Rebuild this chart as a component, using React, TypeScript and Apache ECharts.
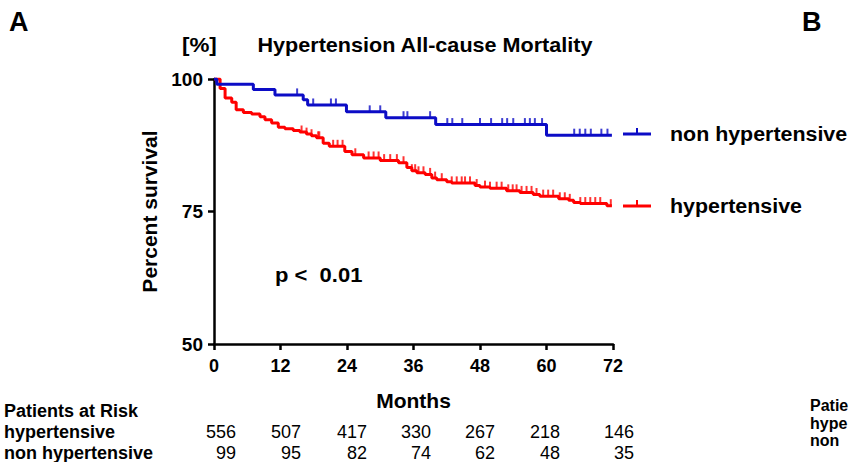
import { useEffect, useRef } from 'react';
import * as echarts from 'echarts';

// Kaplan-Meier steps: [month, percent survival after the drop]
const nonHypSteps: [number, number][] = [
  [0, 100], [0.5, 99.0], [7.1, 98.0], [11.0, 97.0], [16.1, 96.1], [16.9, 95.1],
  [23.9, 93.8], [31.0, 92.7], [40.0, 91.4], [60.0, 89.4], [71.8, 89.4],
];
const hypSteps: [number, number][] = [
  [0, 100], [1.1, 98.2], [2.0, 96.4], [3.2, 95.6], [4.0, 94.2], [5.3, 93.7],
  [6.8, 93.4], [8.3, 92.9], [9.2, 92.3], [10.4, 91.7], [11.6, 90.9], [12.8, 90.6],
  [14.3, 90.3], [15.5, 90.0], [16.7, 89.6], [17.6, 89.3], [18.5, 88.9], [19.7, 87.9],
  [20.8, 87.3], [23.6, 86.3], [24.9, 85.7], [27.0, 85.1], [30.0, 84.6], [33.3, 84.2],
  [34.8, 83.3], [35.7, 82.7], [36.6, 82.3], [38.1, 82.0], [39.3, 81.3], [40.2, 81.0],
  [42.0, 80.6], [42.9, 80.4], [47.1, 79.9], [48.0, 79.6], [49.8, 79.4], [52.8, 78.9],
  [55.2, 78.6], [57.6, 78.2], [58.8, 77.9], [62.2, 77.4], [64.0, 77.1], [64.9, 76.7],
  [66.1, 76.5], [70.9, 76.1], [71.8, 76.1],
];

// censored observations (months)
const nonHypCensored = [
  15, 17.9, 21.1, 22, 28.1, 30, 34.2, 34.9, 39, 42.1, 43, 44.8, 48, 50, 52, 52.9,
  54, 56.1, 57, 57.9, 59.2, 65, 66, 67, 68, 69.9, 71,
];
const hypCensored = [
  15.8, 16.7, 17.6, 18.8, 19, 21.5, 22.3, 23.2, 25.5, 27.9, 28.8, 29.7, 30.7, 31.8,
  33, 34.2, 35.7, 36.3, 36.9, 37.8, 39, 39.9, 41.1, 42.9, 43.8, 44.7, 45.3, 46.2,
  47.4, 48.9, 49.8, 51, 51.9, 53.1, 53.9, 54.6, 55.5, 56.4, 57.3, 58.2, 59.4, 60.3,
  61.2, 62.4, 63.3, 64.2, 66.1, 67, 67.9, 68.8, 69.7, 71.6,
];

const riskLabels = ['hypertensive', 'non hypertensive'];
const riskHyp = ['556', '507', '417', '330', '267', '218', '146'];
const riskNonHyp = ['99', '95', '82', '74', '62', '48', '35'];

const BLUE = '#0c0cc6';
const RED = '#ff0000';
const FONT = '"Liberation Sans", Arial, sans-serif';

function survAt(steps: [number, number][], t: number): number {
  let v = steps[0][1];
  for (const [m, s] of steps) {
    if (m <= t) v = s;
  }
  return v;
}

function txt(text: string, x: number, y: number, size: number, bold = true, align = 'left', sx = 1) {
  return {
    type: 'text',
    x,
    y,
    scaleX: sx,
    silent: true,
    style: {
      text,
      fill: '#000',
      font: `${bold ? 'bold ' : ''}${size}px ${FONT}`,
      textAlign: align,
      textVerticalAlign: 'middle',
    },
  };
}

export default function App() {
  const ref = useRef<HTMLDivElement>(null);

  useEffect(() => {
    document.body.style.margin = '0';
    if (!ref.current) return;
    const chart = echarts.init(ref.current, undefined, { renderer: 'svg' });

    // right edges of the at-risk columns
    const riskCols = [236, 301, 367, 431, 495, 560, 634];

    const graphics: any[] = [
      txt('A', 9, 22, 27),
      txt('B', 802, 22, 27),
      txt('[%]', 182, 45, 20, true, 'left', 1.12),
      txt('Hypertension All-cause Mortality', 425, 45, 20, true, 'center', 1.08),
      txt('p <  0.01', 275, 275, 20, true, 'left', 1.1),
      txt('Patients at Risk', 4, 411, 18),
      txt(riskLabels[0], 4, 432, 18),
      txt(riskLabels[1], 4, 453, 18),
      txt('Patie', 810, 405, 16),
      txt('hype', 810, 423, 16),
      txt('non', 810, 440, 16),
      // legend
      { type: 'line', shape: { x1: 623, y1: 134, x2: 651, y2: 134 }, style: { stroke: BLUE, lineWidth: 3 } },
      { type: 'line', shape: { x1: 637, y1: 134, x2: 637, y2: 128 }, style: { stroke: BLUE, lineWidth: 2 } },
      { type: 'line', shape: { x1: 623, y1: 206, x2: 651, y2: 206 }, style: { stroke: RED, lineWidth: 3 } },
      { type: 'line', shape: { x1: 637, y1: 206, x2: 637, y2: 200 }, style: { stroke: RED, lineWidth: 2 } },
      txt('non hypertensive', 670, 134, 20, true, 'left', 1.07),
      txt('hypertensive', 670, 206, 20, true, 'left', 1.07),
    ];
    riskHyp.forEach((v, i) => graphics.push(txt(v, riskCols[i], 432, 18, false, 'right')));
    riskNonHyp.forEach((v, i) => graphics.push(txt(v, riskCols[i], 453, 18, false, 'right')));

    const censorSeries = (months: number[], steps: [number, number][], color: string) => ({
      type: 'scatter',
      data: months.map((m) => [m, survAt(steps, m)]),
      symbol: 'rect',
      symbolSize: [2, 7],
      symbolOffset: [0, -3],
      itemStyle: { color },
      z: 4,
      silent: true,
    });

    chart.setOption({
      animation: false,
      grid: { left: 214, right: 238, top: 79, bottom: 118 },
      xAxis: {
        type: 'value',
        min: 0,
        max: 72,
        interval: 12,
        name: 'Months',
        nameLocation: 'middle',
        nameGap: 46,
        nameTextStyle: { fontFamily: FONT, fontWeight: 'bold', fontSize: 21, color: '#000' },
        axisLine: { lineStyle: { color: '#000', width: 2.5 } },
        axisTick: { length: 6, lineStyle: { color: '#000', width: 2.5 } },
        axisLabel: { margin: 13, fontFamily: FONT, fontWeight: 'bold', fontSize: 18, color: '#000' },
        splitLine: { show: false },
      },
      yAxis: {
        type: 'value',
        min: 50,
        max: 100,
        interval: 25,
        name: 'Percent survival',
        nameLocation: 'middle',
        nameGap: 54,
        nameTextStyle: { fontFamily: FONT, fontWeight: 'bold', fontSize: 21, color: '#000' },
        axisLine: { show: true, lineStyle: { color: '#000', width: 2.5 } },
        axisTick: { show: true, length: 6, lineStyle: { color: '#000', width: 2.5 } },
        axisLabel: { margin: 11, fontFamily: FONT, fontWeight: 'bold', fontSize: 19, color: '#000' },
        splitLine: { show: false },
      },
      series: [
        {
          type: 'line',
          step: 'end',
          data: hypSteps,
          symbol: 'none',
          lineStyle: { color: RED, width: 3 },
          z: 3,
          silent: true,
        },
        {
          type: 'line',
          step: 'end',
          data: nonHypSteps,
          symbol: 'none',
          lineStyle: { color: BLUE, width: 3 },
          z: 3,
          silent: true,
        },
        censorSeries(hypCensored, hypSteps, RED),
        censorSeries(nonHypCensored, nonHypSteps, BLUE),
      ],
      graphic: graphics,
    });

    return () => chart.dispose();
  }, []);

  return <div ref={ref} style={{ width: 851, height: 462 }} />;
}
